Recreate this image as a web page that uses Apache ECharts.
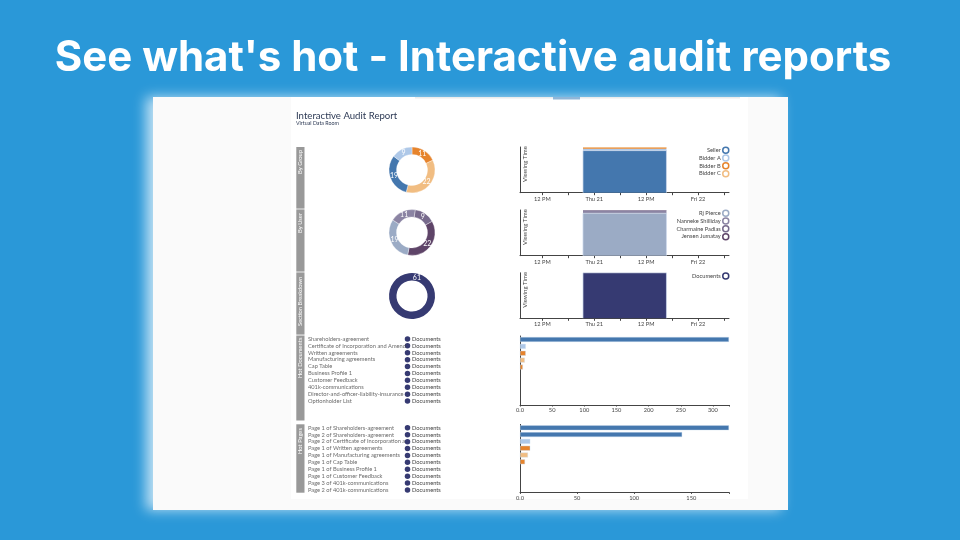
<!DOCTYPE html>
<html>
<head>
<meta charset="utf-8">
<style>html,body{margin:0;padding:0;background:#2a98d8}#main{width:960px;height:540px}</style>
<script src="https://cdn.jsdelivr.net/npm/echarts@6/dist/echarts.min.js"></script>
</head>
<body>
<div id="main"></div>
<script>
var FONT = 'Lato';
var SMALL = 5.7;
var BLUE = '#4477ae', LBLUE = '#aec8e8', ORANGE = '#e6842d', LORANGE = '#f1bd82';
var SLATE = '#9babc5', GREYPURPLE = '#8b84a3', PURPLE = '#776a8c', DPURPLE = '#5e4468', NAVY = '#363a72';

// donuts
var groupNames = ['Bidder B', 'Bidder C', 'Seller', 'Bidder A'];
var groupCounts = [11, 22, 19, 9];
var userNames = ['Charmaine Padias', 'Jensen Jumatay', 'Rj Pierce', 'Nanneke Shilliday'];
var userCounts = [9, 22, 19, 11];
var sectionNames = ['Documents'];
var sectionCounts = [61];

// viewing time
var spanTimes = ['2019-11-20 21:24', '2019-11-21 16:42'];
var tickTimes = ['2019-11-20 12:00', '2019-11-21 00:00', '2019-11-21 12:00', '2019-11-22 00:00'];
var tickLabels = ['12 PM', 'Thu 21', '12 PM', 'Fri 22'];
var axisStart = '2019-11-20 06:50', axisEnd = '2019-11-22 07:10';
var groupLegend = ['Seller', 'Bidder A', 'Bidder B', 'Bidder C'];
var groupTime = [325, 15, 10, 3];
var userLegend = ['Rj Pierce', 'Nanneke Shilliday', 'Charmaine Padias', 'Jensen Jumatay'];
var userTime = [322, 22, 2, 1];
var sectionTime = [348];

// hot lists
var hotDocs = ['Shareholders-agreement', 'Certificate of Incorporation and Amend', 'Written agreements', 'Manufacturing agreements', 'Cap Table', 'Business Profile 1', 'Customer Feedback', '401k-communications', 'Director-and-officer-liability-insurance', 'Optionholder List'];
var hotDocValues = [325, 9, 9, 7.5, 4.5, 0, 0, 0, 0, 0];
var hotPages = ['Page 1 of Shareholders-agreement', 'Page 2 of Shareholders-agreement', 'Page 2 of Certificate of Incorporation a', 'Page 1 of Written agreements', 'Page 1 of Manufacturing agreements', 'Page 1 of Cap Table', 'Page 1 of Business Profile 1', 'Page 1 of Customer Feedback', 'Page 3 of 401k-communications', 'Page 2 of 401k-communications'];
var hotPageValues = [183, 142, 9, 9, 7, 4.4, 0, 0, 0, 0];
var hotBarColors = [BLUE, BLUE, LBLUE, ORANGE, LORANGE, ORANGE];
var hotDocColors = [BLUE, LBLUE, ORANGE, LORANGE, ORANGE];
var sectionLabel = 'Documents';
var docTicks = [0, 50, 100, 150, 200, 250, 300, 325];
var pageTicks = [0, 50, 100, 150, 183];

var sideBars = [
  { name: 'By Group', top: 147, bottom: 208.6, textY: 174 },
  { name: 'By User', top: 209.4, bottom: 271.6, textY: 233 },
  { name: 'Section Breakdown', top: 272.4, bottom: 334.6, textY: 326 },
  { name: 'Hot Documents', top: 335.6, bottom: 420.6, textY: 378 },
  { name: 'Hot Pages', top: 424.3, bottom: 492.7, textY: 454 }
];

var ms = function (s) { return new Date(s.replace(' ', 'T') + ':00').getTime(); };
var tickMs = tickTimes.map(ms);
var axisColor = '#444';
var textColor = '#444';
var HALF_DAY = 12 * 3600 * 1000;

var grids = [], xAxes = [], yAxes = [], series = [], legends = [], graphics = [];

function donut(names, counts, colors, cy, start) {
  series.push({
    type: 'pie', center: [412, cy], radius: [15.5, 23], startAngle: start, clockwise: true,
    silent: true, animation: false, label: { show: false }, labelLine: { show: false },
    itemStyle: { borderColor: 'rgba(255,255,255,0.7)', borderWidth: counts.length > 1 ? 0.5 : 0 },
    data: names.map(function (n, i) { return { name: n, value: counts[i], itemStyle: { color: colors[i] } }; })
  });
  // the counts sit on a wider see-through ring so they land mid-band
  series.push({
    type: 'pie', center: [412, cy], radius: [9, 23], startAngle: start, clockwise: true,
    silent: true, animation: false, z: 3,
    label: { position: 'inside', formatter: '{c}', color: '#fff', fontSize: 7, fontFamily: FONT },
    labelLine: { show: false }, itemStyle: { color: 'rgba(0,0,0,0)' },
    data: names.map(function (n, i) { return { name: n, value: counts[i] }; })
  });
}

function timeChart(names, values, colors, top, bottom) {
  var idx = grids.length;
  var total = values.reduce(function (a, b) { return a + b; }, 0);
  grids.push({ left: 520, right: 231, top: top, height: bottom - top });
  xAxes.push({
    gridIndex: idx, type: 'time', min: ms(axisStart), max: ms(axisEnd),
    minInterval: HALF_DAY, maxInterval: HALF_DAY,
    axisLine: { lineStyle: { color: axisColor, width: 1 } },
    axisTick: { length: 2.5, lineStyle: { color: axisColor } },
    axisLabel: {
      color: textColor, fontSize: SMALL, fontFamily: FONT, margin: 3, hideOverlap: false,
      formatter: function (v) { var i = tickMs.indexOf(v); return i < 0 ? '' : tickLabels[i]; }
    },
    splitLine: { show: false }
  });
  yAxes.push({
    gridIndex: idx, type: 'value', min: 0, max: total,
    axisLine: { show: true, lineStyle: { color: axisColor, width: 1 } },
    axisTick: { show: false }, axisLabel: { show: false }, splitLine: { show: false }
  });
  names.forEach(function (n, i) {
    series.push({
      type: 'line', name: n, xAxisIndex: idx, yAxisIndex: idx, stack: 'time' + idx,
      showSymbol: false, animation: false, silent: true,
      lineStyle: { width: i === 0 ? 0.8 : 0, color: 'rgba(205,218,236,0.9)' },
      areaStyle: { color: colors[i], opacity: 1 },
      itemStyle: { color: colors[i] },
      data: [[ms(spanTimes[0]), 0], [ms(spanTimes[0]), values[i]], [ms(spanTimes[1]), values[i]], [ms(spanTimes[1]), 0]]
    });
  });
  legends.push({
    orient: 'vertical', right: 230.5, top: top - 0.5, align: 'right', itemWidth: 6, itemHeight: 6, itemGap: 0.3,
    selectedMode: false, padding: 0,
    textStyle: { color: textColor, fontSize: SMALL, fontFamily: FONT, padding: [0, -3, 0, 0] },
    data: names.map(function (n, i) {
      return { name: n, icon: 'circle', itemStyle: { color: '#fff', borderColor: colors[i], borderWidth: 1.5 } };
    })
  });
  graphics.push({
    type: 'text', x: 522, y: top + 17, rotation: Math.PI / 2, silent: true,
    style: { text: 'Viewing Time', fill: textColor, fontSize: 6, fontFamily: FONT, align: 'center', verticalAlign: 'top' }
  });
}

function hotList(names, top, bottom) {
  var idx = grids.length;
  grids.push({ left: 308, width: 99.5, top: top, height: bottom - top });
  xAxes.push({ gridIndex: idx, type: 'value', min: 0, max: 1, show: false });
  yAxes.push({ gridIndex: idx, type: 'category', data: names, inverse: true, show: false });
  series.push({
    type: 'scatter', xAxisIndex: idx, yAxisIndex: idx, symbolSize: 0, silent: true, animation: false,
    label: {
      show: true, position: 'right', distance: 0, color: textColor, fontSize: SMALL, fontFamily: FONT,
      formatter: function (p) { return p.value[1]; }
    },
    data: names.map(function (n) { return [0, n]; })
  });
  series.push({
    type: 'scatter', xAxisIndex: idx, yAxisIndex: idx, symbolSize: 5.5, silent: true, animation: false,
    itemStyle: { color: NAVY, opacity: 1 },
    label: { show: true, position: 'right', distance: 1.8, color: textColor, fontSize: SMALL, fontFamily: FONT, formatter: sectionLabel },
    data: names.map(function (n) { return [1, n]; })
  });
}

function hotBars(names, values, colors, ticks, top, bottom, labelMargin) {
  var idx = grids.length;
  var last = ticks[ticks.length - 1];
  grids.push({ left: 520, right: 231, top: top, height: bottom - top });
  xAxes.push({
    gridIndex: idx, type: 'value', min: 0, max: last,
    axisLine: { show: true, lineStyle: { color: axisColor } },
    axisTick: { show: true, length: 1.5, lineStyle: { color: axisColor }, customValues: ticks },
    axisLabel: {
      customValues: ticks.slice(0, -1), color: textColor, fontSize: SMALL, fontFamily: FONT, margin: labelMargin,
      formatter: function (v) { return v === 0 ? '0.0' : String(v); }
    },
    splitLine: { show: false }
  });
  yAxes.push({
    gridIndex: idx, type: 'category', data: names, inverse: true,
    axisLine: { lineStyle: { color: axisColor } },
    axisTick: { alignWithLabel: true, length: 2.5, lineStyle: { color: axisColor } },
    axisLabel: { show: false }
  });
  series.push({
    type: 'bar', xAxisIndex: idx, yAxisIndex: idx, barWidth: 5, silent: true, animation: false,
    data: values.map(function (v, i) {
      return { value: v, itemStyle: { color: colors[i] || BLUE, borderColor: 'rgba(205,222,240,0.8)', borderWidth: v > 0 ? 0.5 : 0 } };
    })
  });
}

// page chrome
graphics.push({
  type: 'rect', shape: { x: 153, y: 97, width: 635, height: 413 }, silent: true,
  style: { fill: '#fafafa', shadowBlur: 12, shadowOffsetX: -7, shadowColor: 'rgba(255,255,255,0.7)' }
});
graphics.push({ type: 'rect', shape: { x: 291, y: 97, width: 457, height: 402 }, silent: true, style: { fill: '#fff' } });
graphics.push({ type: 'rect', shape: { x: 415, y: 97, width: 325, height: 1.5 }, silent: true, style: { fill: '#ececec' } });
graphics.push({ type: 'rect', shape: { x: 553, y: 97, width: 27, height: 2.5 }, silent: true, style: { fill: '#8fb6d8' } });
graphics.push({
  type: 'text', x: 473, y: 58, silent: true,
  style: { text: "See what's hot - Interactive audit reports", fill: '#fff', fontSize: 42, fontWeight: 'bold', fontFamily: 'Inter', align: 'center', verticalAlign: 'middle' }
});
graphics.push({ type: 'text', x: 296, y: 115.5, silent: true, style: { text: 'Interactive Audit Report', fill: '#2d3a55', fontSize: 9.6, fontFamily: FONT, verticalAlign: 'middle' } });
graphics.push({ type: 'text', x: 296, y: 123.5, silent: true, style: { text: 'Virtual Data Room', fill: '#2d3a55', fontSize: 5.3, fontFamily: FONT, verticalAlign: 'middle' } });
sideBars.forEach(function (b) {
  graphics.push({ type: 'rect', shape: { x: 296.3, y: b.top, width: 8.2, height: b.bottom - b.top }, silent: true, style: { fill: '#999' } });
  graphics.push({
    type: 'text', x: 300.4, y: b.textY, rotation: Math.PI / 2, silent: true,
    style: { text: b.name, fill: '#fff', fontSize: 5.8, fontFamily: FONT, align: 'left', verticalAlign: 'middle' }
  });
});

donut(groupNames, groupCounts, [ORANGE, LORANGE, BLUE, LBLUE], 170, 90);
donut(userNames, userCounts, [PURPLE, DPURPLE, SLATE, GREYPURPLE], 232.5, 82);
donut(sectionNames, sectionCounts, [NAVY], 296, 255);

timeChart(groupLegend, groupTime, [BLUE, LBLUE, ORANGE, LORANGE], 147, 192.7);
timeChart(userLegend, userTime, [SLATE, GREYPURPLE, PURPLE, DPURPLE], 210, 255.7);
timeChart(sectionNames, sectionTime, [NAVY], 272.8, 318.3);

hotList(hotDocs, 335.5, 404.5);
hotList(hotPages, 424.4, 493.4);
hotBars(hotDocs, hotDocValues, hotDocColors, docTicks, 336, 405, 2);
hotBars(hotPages, hotPageValues, hotBarColors, pageTicks, 424.4, 492.4, 3);

var chart = echarts.init(document.getElementById('main'), null, { renderer: 'canvas' });
chart.setOption({
  backgroundColor: '#2a98d8',
  animation: false,
  tooltip: { show: false },
  grid: grids,
  xAxis: xAxes,
  yAxis: yAxes,
  legend: legends,
  graphic: { elements: graphics },
  series: series
});
</script>
</body>
</html>
